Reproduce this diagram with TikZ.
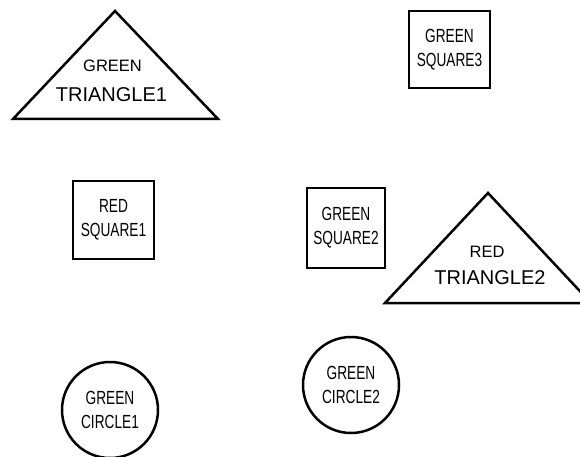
\documentclass[tikz,border=0pt]{standalone}
\usepackage{fontspec}
\setmainfont{Liberation Sans}
\newfontfamily\narrowfont{Liberation Sans}[FakeStretch=0.72]
\begin{document}
\begin{tikzpicture}[x=1pt,y=-1pt,
  shapeline/.style={draw=black,line width=2.5pt},
  boxnode/.style={shapeline,rectangle,inner sep=0pt,align=center,
    font=\narrowfont\fontsize{19}{24}\selectfont},
  roundnode/.style={shapeline,circle,inner sep=0pt,minimum size=96pt,align=center,
    font=\narrowfont\fontsize{19}{24}\selectfont},
  smalltxt/.style={inner sep=0pt,font=\fontsize{16.5}{18}\selectfont},
  bigtxt/.style={inner sep=0pt,font=\fontsize{20}{22}\selectfont}]
\useasboundingbox (0,0) rectangle (580,457);
\clip (0,0) rectangle (580,457);
\fill[white] (0,0) rectangle (580,457);
% triangle 1
\draw[shapeline,line join=miter] (115,11) -- (218,119) -- (13,119) -- cycle;
\node[smalltxt] (t1a) at (112.5,66) {GREEN};
\node[bigtxt] (t1b) at (111.5,94.5) {TRIANGLE1};
% triangle 2
\draw[shapeline,line join=miter] (488,193) -- (591,303) -- (385,303) -- cycle;
\node[smalltxt] (t2a) at (487,252) {RED};
\node[bigtxt] (t2b) at (490,278) {TRIANGLE2};
% squares
\node[boxnode,minimum width=81pt,minimum height=77pt] (s3) at (449.5,49.5) {GREEN\\SQUARE3};
\node[boxnode,minimum width=81pt,minimum height=78pt] (s1) at (113.5,220) {RED\\SQUARE1};
\node[boxnode,minimum width=78pt,minimum height=80pt] (s2) at (346,228) {GREEN\\SQUARE2};
% circles
\node[roundnode] (c1) at (110,410) {GREEN\\CIRCLE1};
\node[roundnode] (c2) at (351,385) {GREEN\\CIRCLE2};
\end{tikzpicture}
\end{document}
